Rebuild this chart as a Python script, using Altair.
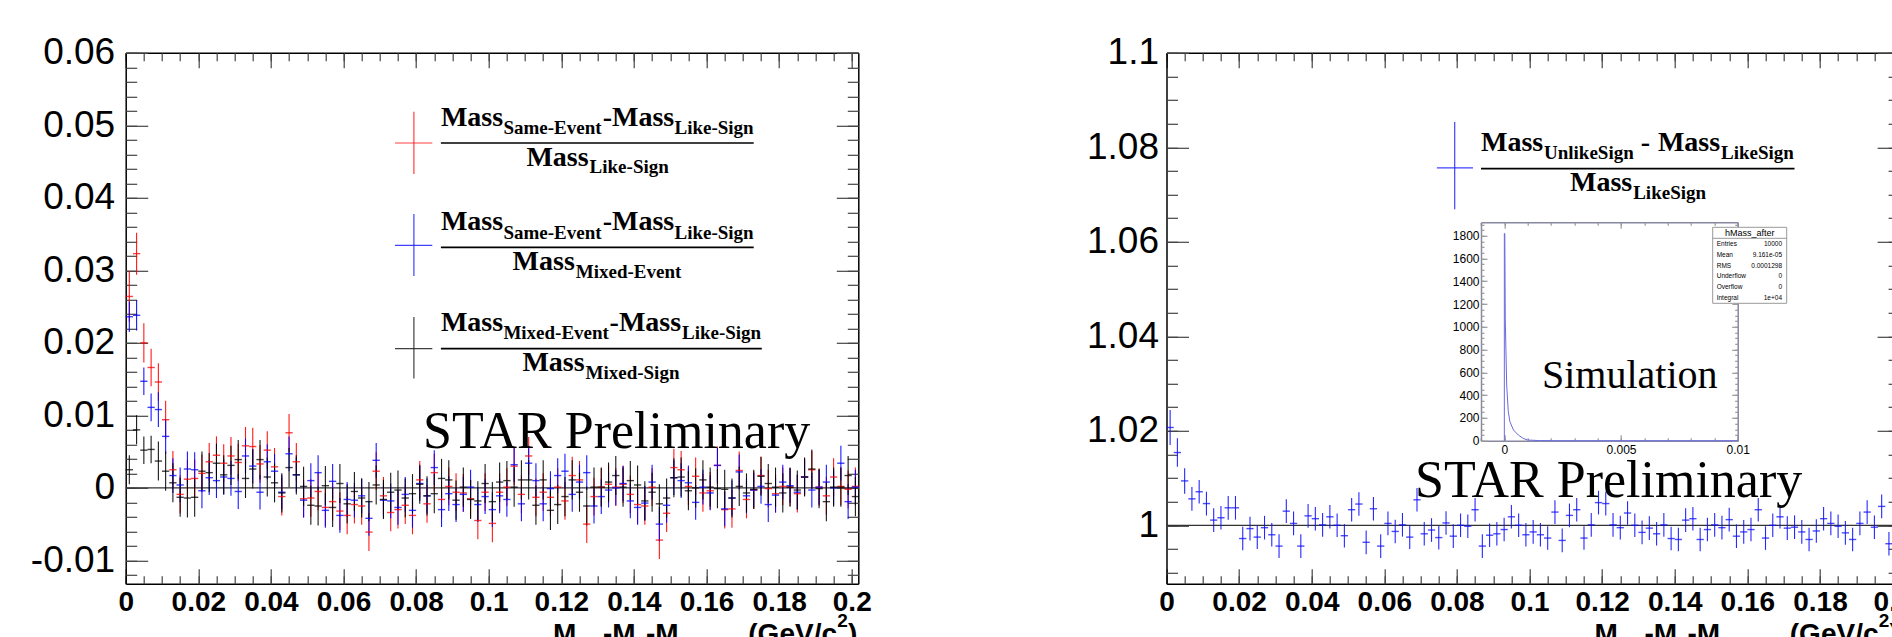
import altair as alt
import pandas as pd

# ---------------- data ----------------
BIN_WIDTH = 0.002

# left panel: 101 bins, three ratio histograms
red_vals = [0.0264, 0.0323, 0.0200, 0.0166, 0.0146, 0.0094, 0.0025, -0.0009, 0.0012, 0.0013,
            0.0020, 0.0036, 0.0045, 0.0034, 0.0044, 0.0035, 0.0058, 0.0057, 0.0033, 0.0052,
            0.0029, -0.0012, 0.0076, 0.0036, -0.0015, -0.0014, -0.0005, -0.0027, -0.0019, -0.0032,
            -0.0038, -0.0023, -0.0025, -0.0061,
            0.0023, -0.0011, -0.0034, -0.0030, -0.0024, -0.0038, 0.0011, -0.0022, 0.0021, -0.0016,
            0.0002, -0.0006, -0.0007, -0.0015, -0.0045, -0.0006, -0.0049, -0.0006, 0.0001, 0.0030,
            -0.0009, 0.0044, -0.0013, -0.0006, -0.0013, 0.0001, -0.0018, 0.0017, 0.0011, -0.0050,
            -0.0012, 0.0001,
            0.0005,
            0.0001, 0.0005, -0.0009, -0.0023, -0.0025, 0.0001, -0.0072, -0.0035, 0.0028, 0.0025,
            0.0002, 0.0016, -0.0007, -0.0004, 0.0031, -0.0030, -0.0029, 0.0024, -0.0016, -0.0003,
            0.0017, -0.0001, -0.0008, 0.0002, 0.0001, -0.0008, 0.0015, 0.0025, 0.0001, -0.0011,
            0.0015, 0.0002, -0.0002, 0.0002]
blue_vals = [0.0236, 0.0238, 0.0147, 0.0111, 0.0108, 0.0071, 0.0017, 0.0004, 0.0026, 0.0025,
             -0.0004, 0.0014, 0.0010, 0.0015, 0.0013, -0.0005, 0.0044, 0.0030, -0.0006, 0.0036,
             0.0023, -0.0006, 0.0047, 0.0018, -0.0017, 0.0010, 0.0021, -0.0031, 0.0009, -0.0038,
             -0.0016, -0.0017, -0.0011, -0.0042,
             0.0038, -0.0017, -0.0018, -0.0027, -0.0009, -0.0031, 0.0006, -0.0011, 0.0028, -0.0030,
             -0.0008, -0.0023, -0.0009, 0.0001, -0.0023, -0.0012, -0.0030, -0.0011, -0.0016, 0.0032,
             -0.0022, 0.0034, 0.0010, -0.0022, -0.0001, 0.0017, 0.0023, -0.0009, 0.0008, 0.0021,
             -0.0025, -0.0012,
             -0.0003,
             0.0000, 0.0006, -0.0018, -0.0027, -0.0021, 0.0008, -0.0050, -0.0024, 0.0014, 0.0010,
             0.0007, -0.0020, 0.0001, -0.0007, 0.0031, -0.0029, -0.0014, 0.0022, -0.0011, -0.0003,
             0.0002, -0.0023, -0.0010, 0.0008, 0.0003, -0.0006, 0.0015, -0.0003, 0.0001, 0.0008,
             0.0000, 0.0034, -0.0019, 0.0001]
black_vals = [0.0025, 0.0080, 0.0052, 0.0053, 0.0037, 0.0023, 0.0007, -0.0013, -0.0014, -0.0013,
              0.0023, 0.0021, 0.0034, 0.0018, 0.0031, 0.0039, 0.0013, 0.0026, 0.0039, 0.0015,
              0.0007, -0.0007, 0.0028, 0.0018, 0.0002, -0.0024, -0.0025, 0.0003, -0.0027, 0.0006,
              -0.0022, -0.0005, -0.0014, -0.0019,
              0.0004, -0.0016, -0.0006, -0.0003, -0.0014, -0.0008, 0.0005, -0.0011, -0.0008, 0.0013,
              0.0011, -0.0017, 0.0001, -0.0016, -0.0018, 0.0006, -0.0019, 0.0008, 0.0010, 0.0001,
              0.0011, 0.0011, -0.0024, 0.0011, -0.0031, -0.0023, -0.0012, 0.0011, -0.0006, -0.0025,
              0.0001, 0.0001,
              0.0008,
              0.0017, 0.0001, 0.0010, 0.0004, -0.0018, -0.0006, -0.0022, -0.0014, 0.0014, 0.0015,
              -0.0004, 0.0000, 0.0011, 0.0001, -0.0001, -0.0002, -0.0014, 0.0002, -0.0007, -0.0002,
              0.0016, 0.0006, 0.0001, -0.0007, 0.0001, -0.0003, 0.0015, 0.0026, -0.0001, -0.0019,
              0.0001, 0.0001, 0.0017, -0.0012]
red_err = [0.0035, 0.0029, 0.0027, 0.0026] + [0.0026] * 97
blue_err = [0.0021, 0.0021, 0.0019, 0.0019] + [0.0024] * 97
black_err = [0.0020, 0.0020, 0.0019, 0.0019] + [0.0027] * 97

series_names = ["(SE-LS)/LS", "(SE-LS)/ME", "(ME-LS)/MS"]
series_colors = ["#ff0000", "#0000ff", "#000000"]

# right panel: 100 bins
right_vals = [1.0207, 1.0154, 1.0094, 1.0056, 1.0071, 1.0046, 1.0011, 1.0016, 1.0037, 1.0037,
              0.9972, 0.9993, 0.9975, 0.9995, 0.9980, 0.9956, 1.0030, 1.0004, 0.9956, 1.0020,
              1.0014, 1.0001, 1.0018, 1.0000, 0.9978, 1.0033, 1.0045, 0.9964, 1.0035, 0.9956,
              1.0004, 0.9987, 1.0001, 0.9975,
              1.0054, 0.9982, 0.9990, 0.9974, 1.0005, 0.9977, 1.0000, 0.9998, 1.0033, 0.9956,
              0.9979, 0.9982, 0.9991, 1.0018, 1.0000, 0.9980, 0.9986, 0.9980, 0.9973, 1.0028,
              0.9968, 1.0021, 1.0033, 0.9973, 1.0001, 1.0048, 1.0046, 1.0001, 0.9995, 1.0026,
              1.0000, 0.9985, 0.9994,
              0.9982, 1.0001, 0.9972, 0.9970, 1.0011, 1.0014, 0.9970, 0.9991, 1.0001, 0.9995,
              1.0012, 0.9977, 0.9986, 0.9991, 1.0033, 0.9973, 1.0000, 1.0018, 0.9994, 0.9996,
              0.9986, 0.9970, 0.9988, 1.0014, 1.0004, 0.9998, 0.9984, 0.9970, 1.0004, 1.0028,
              0.9996, 1.0040, 0.9961]
right_err = [0.0037, 0.0030, 0.0027] + [0.0025] * 97

# inset (simulation) histogram outline
inset_x = [-0.00002, 0.0, 0.0, 0.00002, 0.00004, 0.0001, 0.00017, 0.00024, 0.00039, 0.0006,
           0.00081, 0.001, 0.0015, 0.002, 0.005, 0.01]
inset_y = [0, 0, 1820, 1820, 1070, 490, 255, 167, 94, 50, 20, 6, 1, 0, 0, 0]

stats_labels = ["Entries", "Mean", "RMS", "Underflow", "Overflow", "Integral"]
stats_values = ["10000", "9.161e-05", "0.0001298", "0", "0", "1e+04"]

# tick values
x_major = [round(0.02 * i, 3) for i in range(11)]
x_minor = [round(0.005 * i, 4) for i in range(41)]
ly_major = [round(-0.01 + 0.01 * i, 3) for i in range(8)]
ly_minor = [round(-0.012 + 0.002 * i, 4) for i in range(37)]
ry_major = [round(1.0 + 0.02 * i, 3) for i in range(6)]
ry_minor = [round(0.99 + 0.005 * i, 4) for i in range(23)]
iy_major = [200 * i for i in range(10)]
iy_minor = [50 * i for i in range(39)]
ix_major = [0.0, 0.005, 0.01]
ix_minor = [round(-0.001 + 0.001 * i, 4) for i in range(12)]

# ---------------- layout (pixels) ----------------
OX, OY = 125.7, 52.8
W, H = 732.6, 531.0
LX, LXR = [0.0, 0.2018], [0.0, W]
LY, LYR = [-0.01323, 0.06], [H, 0.0]
RX, RXR = [0.0, 0.2018], [1166.5 - OX, 1166.5 - OX + W]
RY, RYR = [0.98762, 1.1], [H, 0.0]
IX, IXR = [-0.001, 0.01], [1481.0 - OX, 1737.7 - OX]
IY, IYR = [0.0, 1918.0], [440.7 - OY, 222.3 - OY]

SANS = "Liberation Sans"
SERIF = "Liberation Serif"
FMT2 = "datum.value < 0 ? '-' + format(-datum.value, '.2~f') : format(datum.value, '.2~f')"


def sc(d, r):
    return alt.Scale(domain=d, range=r, nice=False, zero=False)


def ax(orient, offset, values, labels=False, tick_size=0, domain=False, dcolor="black",
       tcolor="#444", **kw):
    a = dict(orient=orient, offset=offset, values=values, grid=False, title=None,
             labels=labels, ticks=tick_size > 0, domain=domain,
             labelFlush=False, labelOverlap=False)
    if tick_size > 0:
        a.update(tickSize=tick_size, tickColor=tcolor, tickWidth=1.2)
    if domain:
        a.update(domainColor=dcolor, domainWidth=1.5)
    if labels:
        a.update(labelColor="black", labelFont=SANS)
    a.update(kw)
    return alt.Axis(**a)


def host(xd, xr, yd, yr, xaxis, yaxis):
    df = pd.DataFrame({"x": [xd[0]], "y": [yd[0]]})
    return alt.Chart(df).mark_point(opacity=0).encode(
        x=alt.X("x:Q", scale=sc(xd, xr), axis=xaxis),
        y=alt.Y("y:Q", scale=sc(yd, yr), axis=yaxis),
    )


def frame_axes(xd, xr, yd, yr, xmaj, xmin, ymaj, ymin, xlab, ylab, xts, yts, dcolor="black",
               tcolor="#444"):
    left_x, right_x = xr
    bottom_y, top_y = yr
    layers = [
        host(xd, xr, yd, yr,
             ax("bottom", bottom_y - H, xmaj, labels=True, domain=True, dcolor=dcolor, **xlab),
             ax("left", -left_x, ymaj, labels=True, domain=True, dcolor=dcolor, **ylab)),
        host(xd, xr, yd, yr,
             ax("top", -bottom_y, xmaj, tick_size=xts[0], tcolor=tcolor),
             ax("right", left_x - W, ymaj, tick_size=yts[0], tcolor=tcolor)),
        host(xd, xr, yd, yr,
             ax("top", -bottom_y, xmin, tick_size=xts[1], tcolor=tcolor),
             ax("right", left_x - W, ymin, tick_size=yts[1], tcolor=tcolor)),
        host(xd, xr, yd, yr,
             ax("bottom", top_y - H, xmaj, tick_size=xts[0], domain=True, dcolor=dcolor, tcolor=tcolor),
             ax("left", -right_x, ymaj, tick_size=yts[0], domain=True, dcolor=dcolor, tcolor=tcolor)),
        host(xd, xr, yd, yr,
             ax("bottom", top_y - H, xmin, tick_size=xts[1], tcolor=tcolor),
             ax("left", -right_x, ymin, tick_size=yts[1], tcolor=tcolor)),
    ]
    return layers


ONE = pd.DataFrame({"k": [0]})


def label(s, X, Y, size, font=SERIF, weight="bold", align="left", baseline="alphabetic",
          color="black"):
    return alt.Chart(ONE).mark_text(text=s, font=font, fontSize=size, fontWeight=weight,
                                    align=align, baseline=baseline, color=color).encode(
        x=alt.value(X - OX), y=alt.value(Y - OY))


def seg(X1, Y1, X2, Y2, color="black", width=1.5, opacity=1.0):
    return alt.Chart(ONE).mark_rule(color=color, strokeWidth=width, opacity=opacity).encode(
        x=alt.value(X1 - OX), x2=alt.value(X2 - OX), y=alt.value(Y1 - OY), y2=alt.value(Y2 - OY))


# ---------------- left panel ----------------
rows = []
for name, vals, errs in zip(series_names, [red_vals, blue_vals, black_vals],
                            [red_err, blue_err, black_err]):
    for i, (v, e) in enumerate(zip(vals, errs)):
        rows.append(dict(series=name, x0=i * BIN_WIDTH, x1=(i + 1) * BIN_WIDTH,
                         xc=(i + 0.5) * BIN_WIDTH, v=v, lo=v - e, hi=v + e))
left_df = pd.DataFrame(rows)
color = alt.Color("series:N", scale=alt.Scale(domain=series_names, range=series_colors),
                  legend=None)

left_v = alt.Chart(left_df).mark_rule(strokeWidth=1.1, opacity=0.9).encode(
    x=alt.X("xc:Q", scale=sc(LX, LXR), axis=None),
    y=alt.Y("lo:Q", scale=sc(LY, LYR), axis=None), y2="hi:Q", color=color)
left_h = alt.Chart(left_df).mark_rule(strokeWidth=1.4, opacity=0.75).encode(
    x=alt.X("x0:Q", scale=sc(LX, LXR), axis=None), x2="x1:Q",
    y=alt.Y("v:Q", scale=sc(LY, LYR), axis=None), color=color)
left_zero = alt.Chart(pd.DataFrame({"a": [LX[0]], "b": [LX[1]], "y": [0.0]})).mark_rule(
    color="#333", strokeWidth=1.3).encode(
    x=alt.X("a:Q", scale=sc(LX, LXR), axis=None), x2="b:Q",
    y=alt.Y("y:Q", scale=sc(LY, LYR), axis=None))

xlab_big = dict(labelFontSize=28, labelFontWeight="bold", labelPadding=5, labelExpr=FMT2)
left_axes = frame_axes(LX, LXR, LY, LYR, x_major, x_minor, ly_major, ly_minor,
                       xlab_big, dict(labelFontSize=37, labelPadding=11, labelExpr=FMT2),
                       (15, 8), (22, 11))

# ---------------- right panel ----------------
right_df = pd.DataFrame(dict(
    x0=[i * BIN_WIDTH for i in range(len(right_vals))],
    x1=[(i + 1) * BIN_WIDTH for i in range(len(right_vals))],
    xc=[(i + 0.5) * BIN_WIDTH for i in range(len(right_vals))],
    v=right_vals,
    lo=[v - e for v, e in zip(right_vals, right_err)],
    hi=[v + e for v, e in zip(right_vals, right_err)],
))
right_v = alt.Chart(right_df).mark_rule(strokeWidth=1.1, color="#1010ff", opacity=0.9).encode(
    x=alt.X("xc:Q", scale=sc(RX, RXR), axis=None),
    y=alt.Y("lo:Q", scale=sc(RY, RYR), axis=None), y2="hi:Q")
right_h = alt.Chart(right_df).mark_rule(strokeWidth=1.4, color="#1010ff", opacity=0.75).encode(
    x=alt.X("x0:Q", scale=sc(RX, RXR), axis=None), x2="x1:Q",
    y=alt.Y("v:Q", scale=sc(RY, RYR), axis=None))
right_zero = alt.Chart(pd.DataFrame({"a": [RX[0]], "b": [RX[1]], "y": [1.0]})).mark_rule(
    color="#333", strokeWidth=1.3).encode(
    x=alt.X("a:Q", scale=sc(RX, RXR), axis=None), x2="b:Q",
    y=alt.Y("y:Q", scale=sc(RY, RYR), axis=None))
right_axes = frame_axes(RX, RXR, RY, RYR, x_major, x_minor, ry_major, ry_minor,
                        xlab_big, dict(labelFontSize=37, labelPadding=8, labelExpr=FMT2),
                        (15, 8), (22, 11))

# ---------------- inset ----------------
inset_df = pd.DataFrame({"x": inset_x, "y": inset_y})
inset_line = alt.Chart(inset_df).mark_line(color="#6a6ae0", strokeWidth=1, clip=False).encode(
    x=alt.X("x:Q", scale=sc(IX, IXR), axis=None),
    y=alt.Y("y:Q", scale=sc(IY, IYR), axis=None), order="k:O")
inset_df["k"] = list(range(len(inset_x)))
inset_line = alt.Chart(inset_df).mark_line(color="#6a6ae0", strokeWidth=1).encode(
    x=alt.X("x:Q", scale=sc(IX, IXR), axis=None),
    y=alt.Y("y:Q", scale=sc(IY, IYR), axis=None), order="k:Q")
inset_axes = frame_axes(IX, IXR, IY, IYR, ix_major, ix_minor, iy_major, iy_minor,
                        dict(labelFontSize=12, labelPadding=4,
                             labelExpr="format(datum.value, '.3~f')"),
                        dict(labelFontSize=12, labelPadding=2, labelExpr="format(datum.value, 'd')"),
                        (6, 3), (6, 3), dcolor="#8888a0", tcolor="#999")

# ---------------- annotations ----------------
ann = []
# left legend crosses
for col, yv, yh in [("#ff2020", (111.7, 173.9), 143.0), ("#2020ff", (214.0, 276.0), 245.4),
                    ("#202020", (316.9, 378.6), 348.6)]:
    ann.append(seg(413.9, yv[0], 413.9, yv[1], col, 1.2, 0.85))
    ann.append(seg(395.0, yh, 432.3, yh, col, 1.2, 0.85))
# left legend fractions
B, S = 28, 19
for (nb, sb, ly, db, dsb, sub1, dx_mass2, sub2, dmx, dsx, dsub, lx2) in [
    (126.0, 134.0, 143.0, 165.8, 172.5, "Same-Event", 602.7, 674.5, 526.4, 589.6, "Like-Sign", 753.7),
    (230.3, 238.5, 247.4, 270.2, 278.3, "Same-Event", 602.7, 674.5, 512.6, 575.8, "Mixed-Event", 753.7),
    (330.7, 339.2, 348.6, 370.9, 379.0, "Mixed-Event", 609.6, 682.0, 522.4, 585.5, "Mixed-Sign", 761.8),
]:
    ann += [label("Mass", 440.9, nb, B), label(sub1, 503.4, sb, S),
            label("-Mass", dx_mass2, nb, B), label("Like-Sign", sub2, sb, S),
            seg(440.9, ly, lx2, ly, "black", 1.6),
            label("Mass", dmx, db, B), label(dsub, dsx, dsb, S)]
# right legend
ann += [seg(1454.7, 121.9, 1454.7, 209.2, "#2020ff", 1.2, 0.85),
        seg(1436.9, 167.8, 1473.0, 167.8, "#2020ff", 1.2, 0.85),
        label("Mass", 1481.0, 151.0, B), label("UnlikeSign", 1544.0, 159.3, S),
        label("-", 1640.7, 151.0, B), label("Mass", 1657.9, 151.0, B),
        label("LikeSign", 1721.0, 159.3, S),
        seg(1481.0, 168.6, 1794.5, 168.6, "black", 1.6),
        label("Mass", 1570.0, 191.0, B), label("LikeSign", 1633.2, 199.0, S)]
# STAR Preliminary and Simulation
ann += [label("STAR Preliminary", 423.0, 448.0, 52, weight="normal"),
        label("STAR Preliminary", 1415.0, 496.5, 52, weight="normal"),
        label("Simulation", 1542.0, 388.0, 40, weight="normal")]
# stats box
ann.append(alt.Chart(ONE).mark_rect(fill="white", stroke="#999", strokeWidth=1).encode(
    x=alt.value(1712.7 - OX), x2=alt.value(1786.7 - OX),
    y=alt.value(227.3 - OY), y2=alt.value(303.3 - OY)))
ann.append(seg(1712.7, 238.3, 1786.7, 238.3, "#999", 1.0))
ann.append(label("hMass_after", 1749.7, 233.0, 9, font=SANS, weight="normal", align="center",
                 baseline="middle"))
for k, (nm, vv) in enumerate(zip(stats_labels, stats_values)):
    yy = 244.0 + k * 10.75
    ann.append(label(nm, 1716.7, yy, 6.5, font=SANS, weight="normal", baseline="middle"))
    ann.append(label(vv, 1782.0, yy, 6.5, font=SANS, weight="normal", align="right",
                     baseline="middle"))
# x-axis titles (mostly below the visible window)
for dx in (0.0, 1041.5):
    ann += [label("M", 553.0 + dx, 643.0, 28, font=SANS),
            label("-M", 603.0 + dx, 643.0, 28, font=SANS),
            label("-M", 646.0 + dx, 643.0, 28, font=SANS),
            label("(GeV/c", 748.3 + dx, 643.0, 28, font=SANS),
            label("2", 837.2 + dx, 627.0, 19, font=SANS),
            label(")", 848.0 + dx, 643.0, 28, font=SANS)]

layers = (left_axes + right_axes + inset_axes
          + [left_zero, left_v, left_h, right_zero, right_v, right_h, inset_line] + ann)

chart = alt.layer(*layers).resolve_scale(x="independent", y="independent").properties(
    width=W, height=H,
    padding={"left": OX, "top": OY, "right": 1892 - OX - W, "bottom": 637 - OY - H},
    autosize=alt.AutoSizeParams(type="none"),
    background="white",
).configure_view(stroke=None)

chart.save("out.html", embed_options={"renderer": "svg", "actions": False})
